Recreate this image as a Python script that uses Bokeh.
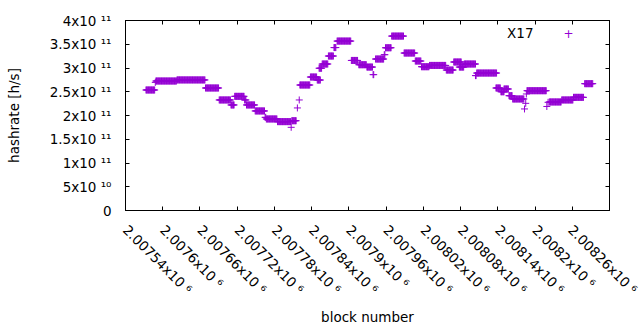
import math
from bokeh.plotting import figure
from bokeh.models import FixedTicker, LinearAxis, Label, Range1d, CustomLabelingPolicy
from bokeh.embed import file_html
from bokeh.resources import INLINE

# runs of blocks sharing the same hashrate (start block, end block, hashrate)
run_start = [2007573, 2007588, 2007589, 2007623, 2007669, 2007691, 2007710, 2007716, 2007732, 2007735,
             2007749, 2007765, 2007767, 2007785, 2007807, 2007808, 2007817, 2007820, 2007821, 2007838,
             2007849, 2007852, 2007857, 2007867, 2007876, 2007881, 2007904, 2007916, 2007929, 2007939,
             2007943, 2007957, 2007959, 2007969, 2007989, 2008007, 2008017, 2008030, 2008057, 2008069,
             2008078, 2008086, 2008104, 2008106, 2008137, 2008145, 2008150, 2008158, 2008164, 2008183,
             2008185, 2008186, 2008187, 2008219, 2008221, 2008223, 2008243, 2008262, 2008280]
run_end = [2007587, 2007588, 2007622, 2007668, 2007690, 2007709, 2007715, 2007731, 2007734, 2007748,
           2007764, 2007766, 2007784, 2007806, 2007807, 2007815, 2007817, 2007820, 2007837, 2007848,
           2007854, 2007856, 2007866, 2007875, 2007879, 2007903, 2007914, 2007928, 2007938, 2007940,
           2007956, 2007958, 2007968, 2007988, 2008006, 2008016, 2008029, 2008056, 2008068, 2008081,
           2008085, 2008104, 2008105, 2008138, 2008144, 2008150, 2008157, 2008163, 2008182, 2008183,
           2008185, 2008186, 2008218, 2008219, 2008221, 2008242, 2008261, 2008278, 2008293]
run_hashrate = [2.537e11, 2.697e11, 2.726e11, 2.749e11, 2.579e11, 2.327e11, 2.222e11, 2.403e11, 2.327e11, 2.222e11,
                2.096e11, 1.961e11, 1.927e11, 1.871e11, 1.751e11, 1.890e11, 2.159e11, 2.327e11, 2.642e11, 2.810e11,
                2.747e11, 2.995e11, 3.084e11, 3.252e11, 3.430e11, 3.567e11, 3.159e11, 3.069e11, 3.020e11, 2.860e11,
                3.189e11, 3.280e11, 3.426e11, 3.672e11, 3.315e11, 3.147e11, 3.027e11, 3.054e11, 2.957e11, 3.126e11,
                3.020e11, 3.084e11, 2.840e11, 2.894e11, 2.579e11, 2.500e11, 2.558e11, 2.417e11, 2.348e11, 2.138e11,
                2.256e11, 2.453e11, 2.522e11, 2.190e11, 2.277e11, 2.285e11, 2.327e11, 2.382e11, 2.670e11]

x_ticks = [2007540, 2007600, 2007660, 2007720, 2007780, 2007840, 2007900,
           2007960, 2008020, 2008080, 2008140, 2008200, 2008260, 2008320]
x_tick_labels = ["2.00754x10 \u2076", "2.0076x10 \u2076", "2.00766x10 \u2076", "2.00772x10 \u2076",
                 "2.00778x10 \u2076", "2.00784x10 \u2076", "2.0079x10 \u2076", "2.00796x10 \u2076",
                 "2.00802x10 \u2076", "2.00808x10 \u2076", "2.00814x10 \u2076", "2.0082x10 \u2076",
                 "2.00826x10 \u2076", "2.00832x10 \u2076"]
y_ticks = [0, 50000000000, 100000000000, 150000000000, 200000000000,
           250000000000, 300000000000, 350000000000, 400000000000]
y_tick_labels = ["0", "5x10 \u00b9\u2070", "1x10 \u00b9\u00b9", "1.5x10 \u00b9\u00b9", "2x10 \u00b9\u00b9",
                 "2.5x10 \u00b9\u00b9", "3x10 \u00b9\u00b9", "3.5x10 \u00b9\u00b9", "4x10 \u00b9\u00b9"]

series_name = "X17"
color = "#9400D3"
font = "DejaVu Sans"
fsize = "13.5px"
x_label_standoff = 17
border_left, border_right = 125, 31
fig_width = 640
frame_w = fig_width - border_left - border_right

blocks = []
hashrate = []
for s, e, h in zip(run_start, run_end, run_hashrate):
    for b in range(s, e + 1):
        blocks.append(b)
        hashrate.append(h)

p = figure(width=fig_width, height=330, output_backend="svg", toolbar_location=None,
           x_range=Range1d(x_ticks[0], x_ticks[-1]), y_range=Range1d(y_ticks[0], y_ticks[-1]),
           min_border_left=border_left, min_border_right=border_right,
           min_border_top=20, min_border_bottom=120)
p.grid.visible = False
p.outline_line_color = "black"
p.outline_line_width = 1
p.background_fill_color = "white"
p.border_fill_color = "white"

p.scatter(blocks, hashrate, marker="cross", size=7, line_color=color, line_width=1)

xt = FixedTicker(ticks=x_ticks)
yt = FixedTicker(ticks=y_ticks)

# the last x label runs off the canvas edge; it is drawn as a free label below
all_but_last = CustomLabelingPolicy(code="""
const out = []
for (const i of indices) { if (i < indices.size - 1) out.push(i) }
return out
""")

for ax in p.xaxis:
    ax.ticker = xt
    ax.major_label_overrides = dict(zip(x_ticks, x_tick_labels))
    ax.major_label_orientation = -math.pi / 4
    ax.major_label_policy = all_but_last
    ax.axis_label = "block number"
for ax in p.yaxis:
    ax.ticker = yt
    ax.major_label_overrides = dict(zip(y_ticks, y_tick_labels))
    ax.axis_label = "hashrate [h/s]"

for ax in list(p.xaxis) + list(p.yaxis):
    ax.major_tick_in = 4
    ax.major_tick_out = 0
    ax.minor_tick_line_color = None
    ax.axis_line_color = "black"
    ax.major_tick_line_color = "black"
    ax.major_label_text_color = "black"
    ax.major_label_text_font = font
    ax.major_label_text_font_size = fsize
    ax.axis_label_text_font = font
    ax.axis_label_text_font_size = fsize
    ax.axis_label_text_font_style = "normal"
    ax.axis_label_text_color = "black"

p.yaxis.major_label_standoff = 14
p.yaxis.axis_label_standoff = 25
p.xaxis.major_label_standoff = x_label_standoff
p.xaxis.axis_label_standoff = 3

top = LinearAxis(ticker=xt, major_tick_in=4, major_tick_out=0, minor_tick_line_color=None,
                 axis_line_color="black", major_label_policy=CustomLabelingPolicy(code="return []"),
                 major_label_text_font_size="1px", major_label_standoff=0)
right = LinearAxis(ticker=yt, major_tick_in=4, major_tick_out=0, minor_tick_line_color=None,
                   axis_line_color="black", major_label_policy=CustomLabelingPolicy(code="return []"),
                   major_label_text_font_size="1px", major_label_standoff=0)
p.add_layout(top, "above")
p.add_layout(right, "right")

# last tick label, at the right edge of the frame, running off the canvas as in the reference
p.add_layout(Label(x=frame_w, y=-x_label_standoff, x_units="screen", y_units="screen",
                   text=x_tick_labels[-1], angle=-math.pi / 4,
                   text_align="left", text_baseline="middle", text_font=font,
                   text_font_size=fsize, text_color="black"))

p.add_layout(Label(x=408, y=178, x_units="screen", y_units="screen", text=series_name,
                   text_align="right", text_baseline="middle", text_font=font,
                   text_font_size=fsize, text_color="black"))
p.add_layout(Label(x=443, y=177, x_units="screen", y_units="screen", text="+",
                   text_align="center", text_baseline="middle", text_font=font,
                   text_font_size="12px", text_color=color))

open("out.html", "w").write(file_html(p, INLINE))
